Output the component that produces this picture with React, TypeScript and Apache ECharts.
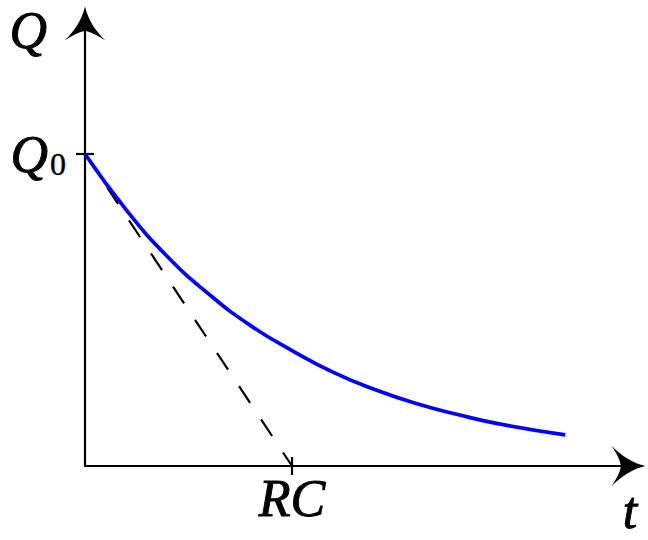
import React, { useEffect, useRef } from 'react';
import * as echarts from 'echarts';

// Decay curve Q(t), t in units of RC, Q in units of Q0
const tValues = [0, 0.2, 0.4, 0.6, 0.8, 1.0, 1.2, 1.4, 1.6, 1.8, 2.0, 2.32];
const qValues = [1.0, 0.82, 0.67, 0.55, 0.45, 0.37, 0.3, 0.245, 0.2, 0.165, 0.135, 0.1];
// Initial tangent (dashed)
const tangentT = [0, 1];
const tangentQ = [1, 0];
// Tick positions and labels
const xTickValues = [1];
const xTickLabel = 'RC';
const yTickValues = [1];
const yTickLabelMain = 'Q';
const yTickLabelSub = '0';
const xAxisName = 't';
const yAxisName = 'Q';

const X_MAX = 2.6256;
const Y_MAX = 1.4183;

const FONT = 'Liberation Serif';
const FS = 52;
const ARROW =
  'path://M20.5 0C18 12 10 25 0 34C5 31 13 25.5 20.5 24.5C28 25.5 36 31 41 34C31 25 23 12 20.5 0Z';

export default function App() {
  const ref = useRef<HTMLDivElement>(null);
  useEffect(() => {
    document.body.style.margin = '0';
    if (!ref.current) return;
    const chart = echarts.init(ref.current, null, { renderer: 'svg' });
    const axisLineStyle = { color: '#000', width: 2.2 };
    const mathText = {
      fontFamily: FONT,
      fontStyle: 'italic',
      fontSize: FS,
      lineHeight: FS,
      color: '#000',
      textBorderColor: '#000',
      textBorderWidth: 0.9,
    };
    const option: any = {
      animation: false,
      backgroundColor: '#fff',
      grid: {
        left: 85,
        right: 19.5,
        top: 23.5,
        bottom: 74,
        containLabel: false,
        outerBoundsMode: 'none',
      },
      xAxis: [
        {
          type: 'value',
          min: 0,
          max: X_MAX,
          position: 'bottom',
          name: xAxisName,
          nameLocation: 'end',
          nameGap: 1.5,
          nameTextStyle: {
            ...mathText,
            align: 'center',
            verticalAlign: 'top',
            padding: [18.5, 0, 0, 0],
          },
          axisLine: {
            show: true,
            onZero: false,
            symbol: ['none', ARROW],
            symbolSize: [41, 34],
            lineStyle: axisLineStyle,
          },
          axisTick: {
            show: true,
            length: 9,
            inside: false,
            customValues: xTickValues,
            lineStyle: axisLineStyle,
          },
          axisLabel: {
            show: true,
            customValues: xTickValues,
            margin: 6.5,
            formatter: () => '{i|' + xTickLabel + '}',
            rich: { i: mathText },
          },
          splitLine: { show: false },
        },
        {
          type: 'value',
          min: 0,
          max: X_MAX,
          position: 'bottom',
          axisLine: { show: false },
          axisTick: {
            show: true,
            length: 9,
            inside: true,
            customValues: xTickValues,
            lineStyle: axisLineStyle,
          },
          axisLabel: { show: false },
          splitLine: { show: false },
        },
      ],
      yAxis: [
        {
          type: 'value',
          min: 0,
          max: Y_MAX,
          position: 'left',
          name: yAxisName,
          nameLocation: 'end',
          nameGap: -6.5,
          nameTextStyle: {
            ...mathText,
            align: 'right',
            verticalAlign: 'middle',
            padding: [0, 38, 0, 0],
          },
          axisLine: {
            show: true,
            onZero: false,
            symbol: ['none', ARROW],
            symbolSize: [41, 34],
            lineStyle: axisLineStyle,
          },
          axisTick: {
            show: true,
            length: 9,
            inside: false,
            customValues: yTickValues,
            lineStyle: axisLineStyle,
          },
          axisLabel: {
            show: true,
            customValues: yTickValues,
            margin: 19,
            formatter: () => '{q|' + yTickLabelMain + '}{s|' + yTickLabelSub + '}',
            rich: {
              q: mathText,
              s: {
                fontFamily: FONT,
                fontSize: 32,
                lineHeight: 44,
                verticalAlign: 'bottom',
                color: '#000',
                textBorderColor: '#000',
                textBorderWidth: 0.4,
                padding: [0, 0, 0, 2],
              },
            },
          },
          splitLine: { show: false },
        },
        {
          type: 'value',
          min: 0,
          max: Y_MAX,
          position: 'left',
          axisLine: { show: false },
          axisTick: {
            show: true,
            length: 9,
            inside: true,
            customValues: yTickValues,
            lineStyle: axisLineStyle,
          },
          axisLabel: { show: false },
          splitLine: { show: false },
        },
      ],
      series: [
        {
          type: 'line',
          name: 'tangent',
          xAxisIndex: 0,
          yAxisIndex: 0,
          data: tangentT.map((t, i) => [t, tangentQ[i]]),
          symbol: 'none',
          lineStyle: { color: '#000', width: 2.2, type: [20, 19.8] },
          z: 2,
        },
        {
          type: 'line',
          name: 'Q(t)',
          xAxisIndex: 0,
          yAxisIndex: 0,
          data: tValues.map((t, i) => [t, qValues[i]]),
          symbol: 'none',
          smooth: 0.5,
          lineStyle: { color: '#0000ff', width: 3.7 },
          z: 3,
        },
      ],
    };
    chart.setOption(option);
    return () => chart.dispose();
  }, []);
  return (
    <div
      ref={ref}
      style={{ position: 'absolute', left: 0, top: 0, width: 648, height: 540 }}
    />
  );
}
